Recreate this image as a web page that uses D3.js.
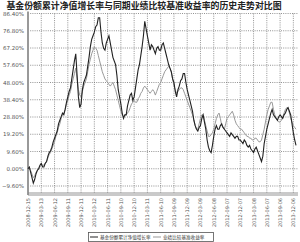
<!DOCTYPE html>
<html>
<head>
<meta charset="utf-8">
<script src="https://cdn.jsdelivr.net/npm/d3@7"></script>
<style>
  body { margin: 0; background: #fff; }
  svg { display: block; }
</style>
</head>
<body>
<div class="chart"></div>
<script>
/* tick labels and series values */
const dateLabels = [
  "2008-12-15", "2009-03-13", "2009-06-12", "2009-09-11", "2009-12-11",
  "2010-03-12", "2010-06-11", "2010-09-10", "2010-12-10", "2011-03-11",
  "2011-06-10", "2011-09-09", "2011-12-09", "2012-03-09", "2012-06-08",
  "2012-09-07", "2012-12-07", "2013-03-08", "2013-06-07", "2013-09-06",
  "2013-12-06"
];
const yTicks = [-9.6, 0, 9.6, 19.2, 28.8, 38.4, 48, 57.6, 67.2, 76.8, 86.4];

// one sample every 0.1 tick step
const fundVals = [
  0, 1, -2, -5, -8, -6, -3, -1, 0, 2,
  3, 1, 1, 3, 4, 7, 9, 10, 12, 15,
  17, 19, 21, 25, 27, 29, 31, 30, 33, 37,
  40, 43, 45, 50, 55, 60, 64, 52, 40, 34,
  36, 44, 48, 50, 52, 57, 62, 68, 72, 74,
  76, 79, 80, 84, 84, 76, 70, 67, 66, 70,
  72, 74, 70, 66, 62, 60, 58, 52, 44, 40,
  36, 31, 28, 30, 30, 35, 38, 41, 42, 38,
  40, 45, 50, 55, 58, 63, 68, 74, 82, 78,
  74, 70, 66, 69, 68, 66, 64, 67, 68, 66,
  66, 69, 70, 67, 64, 61, 58, 56, 54, 50,
  48, 43, 40, 44, 46, 49, 50, 53, 53, 48,
  44, 41, 38, 35, 32, 27, 24, 22, 21, 23,
  24, 28, 30, 26, 22, 16, 12, 10, 9, 13,
  18, 22, 24, 22, 22, 24, 25, 23, 22, 21,
  20, 19, 18, 20, 19, 18, 17, 18, 18, 16,
  16, 15, 14, 16, 15, 13, 12, 13, 11, 10,
  9, 11, 12, 10, 8, 6, 4, 7, 14, 18,
  22, 25, 28, 31, 33, 30, 29, 28, 27, 29,
  30, 29, 28, 30, 31, 33, 34, 32, 30, 25,
  20, 16, 13
];
const benchVals = [
  0, 0, -1, -3, -5, -4, -2, -1, 0, 1,
  2, 2, 2, 3, 4, 6, 8, 9, 11, 13,
  15, 18, 20, 23, 25, 28, 30, 31, 33, 36,
  38, 41, 43, 47, 50, 53, 56, 50, 44, 41,
  40, 43, 46, 48, 50, 54, 58, 61, 64, 66,
  68, 67, 66, 63, 60, 57, 54, 52, 50, 49,
  48, 47, 46, 47, 48, 46, 44, 41, 38, 35,
  32, 30, 29, 30, 30, 31, 32, 34, 36, 37,
  38, 37, 37, 39, 40, 42, 43, 45, 46, 45,
  44, 43, 42, 43, 44, 43, 41, 43, 45, 47,
  48, 50, 52, 54, 55, 56, 57, 56, 54, 50,
  46, 44, 42, 43, 44, 45, 45, 44, 42, 40,
  38, 36, 34, 32, 30, 27, 24, 22, 22, 25,
  28, 30, 30, 27, 24, 21, 18, 18, 19, 20,
  22, 25, 28, 30, 31, 28, 24, 23, 22, 25,
  28, 29, 30, 31, 32, 30, 27, 25, 24, 23,
  22, 22, 21, 20, 19, 18, 18, 17, 17, 16,
  16, 17, 17, 16, 15, 15, 16, 19, 22, 26,
  30, 33, 35, 37, 37, 33, 30, 28, 27, 26,
  26, 27, 29, 31, 33, 34, 34, 31, 28, 26,
  24, 23, 22
];
const sampleStep = 0.1;

const width = 300;
const height = 242;
const plotLeft = 28, plotRight = 298, plotTop = 13.5, plotBottom = 193;

const svg = d3.select(".chart").append("svg")
  .attr("width", width)
  .attr("height", height)
  .attr("viewBox", [0, 0, width, height]);

/* scales */
const x = d3.scaleLinear()
  .domain([0, 20.35])
  .range([plotLeft, plotRight]);

const y = d3.scaleLinear()
  .domain([-9.6, 86.4])
  .range([186, plotTop]);

/* title */
svg.append("text")
  .attr("x", 144)
  .attr("y", 9)
  .attr("text-anchor", "middle")
  .style("font-family", "'Noto Sans CJK SC', sans-serif")
  .style("font-weight", "bold")
  .style("font-size", "8.9px")
  .style("fill", "#222")
  .text("基金份额累计净值增长率与同期业绩比较基准收益率的历史走势对比图");

/* grid */
svg.append("g")
  .selectAll("line")
  .data(yTicks)
  .join("line")
    .attr("x1", plotLeft)
    .attr("x2", plotRight)
    .attr("y1", d => y(d))
    .attr("y2", d => y(d))
    .attr("stroke", "#777")
    .attr("stroke-width", 0.8)
    .attr("stroke-dasharray", "1,1.2");

svg.append("g")
  .selectAll("line")
  .data(dateLabels.slice(1))
  .join("line")
    .attr("x1", (d, i) => x(i + 1))
    .attr("x2", (d, i) => x(i + 1))
    .attr("y1", plotTop)
    .attr("y2", plotBottom)
    .attr("stroke", "#777")
    .attr("stroke-width", 0.8)
    .attr("stroke-dasharray", "1,1.2");

/* y axis labels */
svg.append("g")
  .selectAll("text")
  .data(yTicks)
  .join("text")
    .attr("x", 24)
    .attr("y", d => y(d) + 2)
    .attr("text-anchor", "end")
    .style("font-family", "'DejaVu Sans', sans-serif")
    .style("font-size", "5.5px")
    .style("fill", "#555")
    .text(d => d3.format(".2f")(d) + "%");

/* axis lines */
svg.append("line")
  .attr("x1", plotLeft).attr("x2", plotLeft)
  .attr("y1", plotTop - 2).attr("y2", plotBottom + 2)
  .attr("stroke", "#999").attr("stroke-width", 2);
[plotBottom, plotBottom + 2].forEach(v => {
  svg.append("line")
    .attr("x1", plotLeft).attr("x2", plotRight)
    .attr("y1", v).attr("y2", v)
    .attr("stroke", "#888").attr("stroke-width", 0.9);
});

/* x tick labels, rotated */
svg.append("g")
  .selectAll("text")
  .data(dateLabels)
  .join("text")
    .attr("transform", (d, i) => `translate(${x(i) + 2},198) rotate(-90)`)
    .attr("text-anchor", "end")
    .style("font-family", "'DejaVu Sans', sans-serif")
    .style("font-size", "5px")
    .style("fill", "#555")
    .text(d => d);

/* lines */
const line = d3.line()
  .x((d, i) => x(i * sampleStep))
  .y(d => y(d));

svg.append("path")
  .datum(benchVals)
  .attr("d", line)
  .attr("fill", "none")
  .attr("stroke", "#999")
  .attr("stroke-width", 1);

svg.append("path")
  .datum(fundVals)
  .attr("d", line)
  .attr("fill", "none")
  .attr("stroke", "#222")
  .attr("stroke-width", 1.1);

/* legend */
const legend = svg.append("g");
legend.append("rect")
  .attr("x", 88.5).attr("y", 232.5)
  .attr("width", 125).attr("height", 9)
  .attr("fill", "#fff")
  .attr("stroke", "#555")
  .attr("stroke-width", 0.8);

const legendItems = [
  { label: "基金份额累计净值增长率", color: "#222", x: 90 },
  { label: "业绩比较基准收益率", color: "#999", x: 153 }
];
legendItems.forEach(d => {
  legend.append("line")
    .attr("x1", d.x).attr("x2", d.x + 8)
    .attr("y1", 237).attr("y2", 237)
    .attr("stroke", d.color).attr("stroke-width", 1);
  legend.append("text")
    .attr("x", d.x + 10)
    .attr("y", 239)
    .style("font-family", "'Noto Sans CJK SC', sans-serif")
    .style("font-size", "4.6px")
    .style("fill", "#333")
    .text(d.label);
});
</script>
</body>
</html>
